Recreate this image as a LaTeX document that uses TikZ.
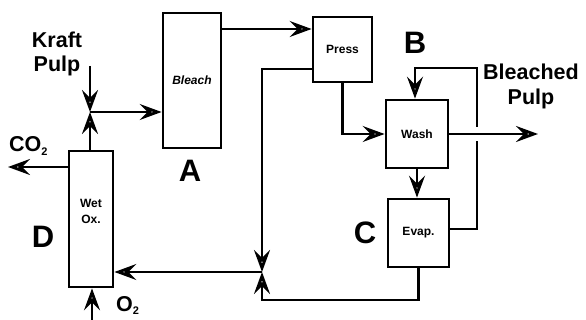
\documentclass[tikz,border=0pt]{standalone}
\usepackage{fontspec}
\setmainfont{Liberation Sans}
\usetikzlibrary{arrows.meta}
\begin{document}
\begin{tikzpicture}[x=1pt,y=-1pt,
  unit/.style={draw,line width=2.8pt,inner sep=0pt,align=center,font=\fontsize{12}{16}\selectfont\bfseries},
  flow/.style={line width=2.8pt},
  arr/.style={flow,-{Stealth[open,length=22pt,width=16pt,inset=8pt,line width=2.8pt]}},
  lbl/.style={font=\fontsize{21.5}{24}\selectfont\bfseries,inner sep=0pt},
  big/.style={font=\fontsize{31}{31}\selectfont\bfseries,inner sep=0pt}]
\useasboundingbox (0,0) rectangle (586,320);
% units
\node[unit,minimum width=58pt,minimum height=135pt] (bleach) at (192,80.5) {\itshape Bleach};
\node[unit,minimum width=59pt,minimum height=65pt] (press) at (342.5,49.5) {Press};
\node[unit,minimum width=62pt,minimum height=68pt] (wash) at (417,134) {Wash};
\node[unit,minimum width=61pt,minimum height=68pt] (evap) at (418.5,233) {Evap.};
\node[unit,minimum width=44pt,minimum height=136pt] (wetox) at (91,219) {};
\node[unit,draw=none] (wetoxt) at (91,211) {Wet\\Ox.};
% junction points
\coordinate (v1) at (90,112);
\coordinate (v2) at (262,272);
\coordinate (kin) at (90,66);
\coordinate (oin) at (92,324);
\coordinate (co2end) at (8,167);
\coordinate (out) at (538,134);
\coordinate (c2) at (262,300);
\coordinate (fb) at (415,68);
\coordinate (gapb) at (477,141);
\coordinate (gapt) at (477,127);
% connectors
\draw[arr] (kin) -- (v1);
\draw[arr] (wetox.north -| v1) -- (v1);
\draw[arr] (v1) -- (bleach.west |- v1);
\draw[arr] (wetox.west |- co2end) -- (co2end);
\draw[arr] (oin) -- (wetox.south -| oin);
\draw[arr] (bleach.east |- 0,29) -- (press.west |- 0,29);
\draw[arr] (press.west |- 0,69) -| (v2);
\draw[arr] (evap.south) |- (c2) -- (v2);
\draw[arr] (v2) -- (wetox.east |- v2);
\draw[arr] (press.south) |- (wash.west);
\draw[arr] (wash.east) -- (out);
\draw[arr] (wash.south) -- (wash.south |- evap.north);
\draw[flow] (evap.east |- 0,229) -| (gapb);
\draw[arr] (gapt) |- (fb) -- (fb |- wash.north);
% labels
\node[lbl,anchor=base] (kr1) at (57,48) {Kraft};
\node[lbl,anchor=base] (kr2) at (57,72) {Pulp};
\node[lbl,anchor=base] (bp1) at (531,80) {Bleached};
\node[lbl,anchor=base] (bp2) at (531,105) {Pulp};
\node[lbl,anchor=base west] (co2) at (9,152) {CO\raisebox{-4pt}{\fontsize{11}{11}\selectfont 2}};
\node[lbl,anchor=base west] (o2) at (116,311) {O\raisebox{-3pt}{\fontsize{11}{11}\selectfont 2}};
\node[big] (la) at (190,171) {A};
\node[big] (lb) at (415,43) {B};
\node[big] (lc) at (365,233) {C};
\node[big] (ld) at (43,237) {D};
\end{tikzpicture}
\end{document}
